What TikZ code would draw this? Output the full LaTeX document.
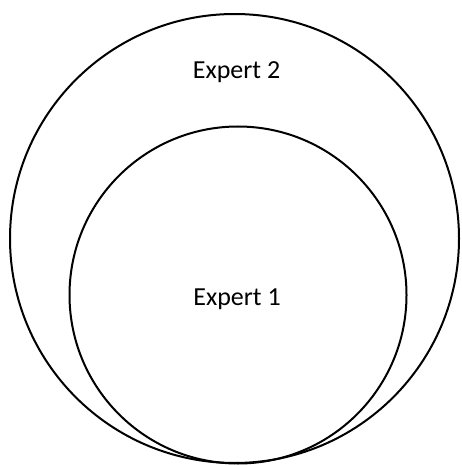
\documentclass[tikz,border=0pt]{standalone}
\usepackage{fontspec}
\setmainfont{Carlito}

\begin{document}
\begin{tikzpicture}[x=1pt,y=-1pt,line cap=round,line join=round,font=\fontsize{26}{30}\selectfont]
  \useasboundingbox (0,0) rectangle (461,465);
  \draw[black,line width=2pt] (234.5,238.5) circle[radius=224.5];
  \draw[black,line width=2pt] (238,295) circle[radius=168.5];
  \node (expert2) at (236.5,72) {Expert 2};
  \node (expert1) at (237,299) {Expert 1};
\end{tikzpicture}
\end{document}
